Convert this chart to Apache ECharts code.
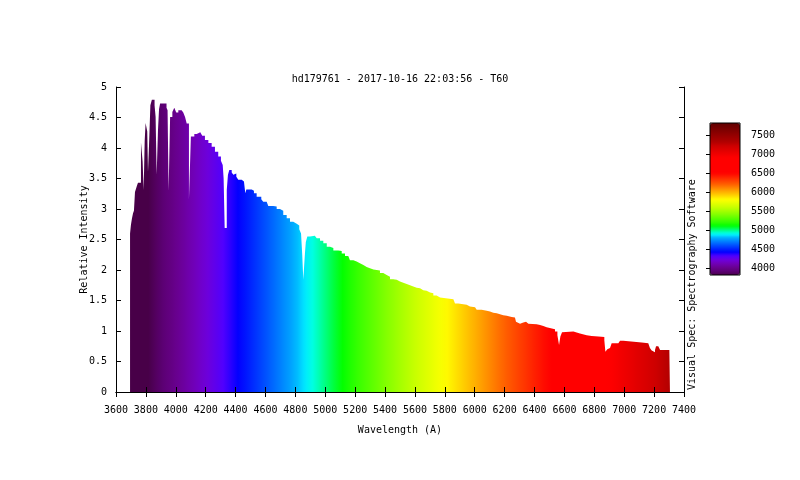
<!DOCTYPE html>
<html>
<head>
<meta charset="utf-8">
<script src="https://cdn.jsdelivr.net/npm/echarts@6/dist/echarts.min.js"></script>
<style>
html,body{margin:0;padding:0;background:#fff;}
#chart{width:800px;height:480px;}
</style>
</head>
<body>
<div id="chart"></div>
<script>
// ---- data ----
const wavelength = [
3694,3700,3707,3714,3720,3727,3740,3747,3767,3778,3785,3792,3798,3809,3814,3821,3830,3840,3858,3865,
3872,3881,3888,3895,3938,3945,3952,3962,3977,3990,4003,4017,4039,4050,4062,4073,4088,4101,4124,4140,
4164,4177,4195,4218,4240,4262,4284,4302,4314,4320,4327,4341,4349,4358,4374,4385,4396,4405,4418,4441,
4456,4465,4472,4508,4523,4541,4572,4585,4608,4619,4652,4675,4697,4719,4742,4764,4786,4809,4826,4838,
4846,4853,4864,4870,4880,4898,4930,4943,4965,4987,5010,5032,5054,5087,5110,5132,5154,5165,5188,5210,
5232,5255,5277,5299,5322,5366,5388,5411,5433,5455,5478,5500,5522,5545,5567,5589,5612,5634,5656,5678,
5701,5723,5745,5768,5779,5857,5868,5890,5946,5968,6002,6013,6046,6080,6102,6124,6147,6191,6214,6247,
6269,6276,6285,6303,6325,6343,6359,6414,6437,6459,6481,6537,6553,6564,6573,6584,6597,6660,6704,6715,
6749,6782,6827,6867,6874,6887,6894,6905,6916,6961,6972,6994,7117,7161,7172,7184,7195,7206,7213,7228,
7240,7302,7306
];
const intensity = [
2.60,2.74,2.85,2.93,2.97,3.28,3.38,3.43,4.09,3.78,3.31,4.12,4.41,4.27,3.61,4.05,4.70,4.79,4.70,4.51,
3.56,4.30,4.64,4.73,4.66,4.62,3.30,4.51,4.59,4.66,4.58,4.62,4.60,4.58,4.51,4.40,3.15,4.19,4.23,4.26,
4.24,4.20,4.13,4.08,4.02,3.94,3.86,3.79,3.72,3.50,2.69,3.31,3.56,3.64,3.60,3.56,3.58,3.53,3.48,3.45,
3.42,3.26,3.32,3.30,3.26,3.20,3.16,3.12,3.09,3.05,3.04,3.00,2.97,2.90,2.85,2.79,2.76,2.73,2.67,2.60,
2.25,1.84,2.27,2.46,2.55,2.56,2.55,2.52,2.48,2.44,2.38,2.36,2.32,2.31,2.27,2.23,2.20,2.16,2.14,2.11,
2.08,2.05,2.03,2.01,1.99,1.95,1.92,1.89,1.85,1.84,1.81,1.79,1.77,1.75,1.73,1.71,1.70,1.67,1.66,1.63,
1.62,1.58,1.55,1.53,1.52,1.49,1.45,1.43,1.40,1.39,1.37,1.35,1.33,1.32,1.30,1.29,1.26,1.25,1.23,1.22,
1.21,1.15,1.12,1.14,1.15,1.12,1.11,1.10,1.08,1.06,1.03,0.99,0.93,0.77,0.91,0.98,0.99,0.96,0.95,0.93,
0.92,0.91,0.90,0.85,0.66,0.70,0.72,0.75,0.80,0.82,0.84,0.81,0.80,0.77,0.72,0.68,0.65,0.69,0.75,0.73,
0.69,0.70,0.70
];
const xTicks = [3600, 7400, 200];
const yTicks = [0, 5, 0.5];
const cbRange = [3816, 7816];
const cbTickValues = [4000, 4500, 5000, 5500, 6000, 6500, 7000, 7500];
// colour stops of the wavelength palette: [wavelength, colour]
const paletteStops = [
  [3816,'#480048'],[3900,'#5a0070'],[4000,'#68008c'],[4100,'#7000b0'],[4200,'#7000d8'],
  [4320,'#5000ff'],[4420,'#0000ff'],[4600,'#0050ff'],[4800,'#00b0ff'],[4890,'#00ffff'],
  [5000,'#00ff80'],[5110,'#00ff00'],[5200,'#30ff00'],[5400,'#80ff00'],[5600,'#c8ff00'],
  [5800,'#ffff00'],[6000,'#ffb000'],[6200,'#ff6000'],[6400,'#ff2000'],[6500,'#ff0000'],
  [6900,'#ff0000'],[7000,'#f00000'],[7200,'#d00000'],[7300,'#b40000'],[7816,'#600000']
];
const titleText = 'hd179761 - 2017-10-16 22:03:56 - T60';
const sideText = 'Visual Spec: Spectrography Software';

// evenly spaced colour list for the visualMap built from the palette stops
function paletteColors(n) {
  const hex = c => [1, 3, 5].map(i => parseInt(c.substr(i, 2), 16));
  const out = [];
  for (let k = 0; k < n; k++) {
    const w = cbRange[0] + (cbRange[1] - cbRange[0]) * k / (n - 1);
    let j = 0;
    while (j < paletteStops.length - 2 && paletteStops[j + 1][0] < w) j++;
    const a = paletteStops[j], b = paletteStops[j + 1];
    const t = Math.max(0, Math.min(1, (w - a[0]) / (b[0] - a[0])));
    const ca = hex(a[1]), cb = hex(b[1]);
    const c = ca.map((v, i) => Math.round(v + (cb[i] - v) * t));
    out.push('rgb(' + c.join(',') + ')');
  }
  return out;
}

// ---- chart ----
const FONT = 'DejaVu Sans Mono';
const txt = {fontFamily: FONT, fontSize: 10, color: '#000'};
const chart = echarts.init(document.getElementById('chart'), null, {renderer: 'canvas'});
const blackLine = {show: true, lineStyle: {color: '#000', width: 1}};
const inTick = {show: true, inside: true, length: 5, lineStyle: {color: '#000'}};

chart.setOption({
  backgroundColor: '#fff',
  animation: false,
  title: {text: titleText, left: 'center', top: 69, textStyle: Object.assign({fontWeight: 'normal'}, txt)},
  grid: [
    {left: 116, top: 87, width: 568, height: 305},
    {left: 710, top: 123, width: 30, height: 152, show: true, z: 10,
     backgroundColor: 'transparent', borderColor: '#000', borderWidth: 1}
  ],
  xAxis: [
    {type: 'value', gridIndex: 0, position: 'bottom', min: xTicks[0], max: xTicks[1], interval: xTicks[2], z: 5,
     axisLine: blackLine, axisTick: inTick, splitLine: {show: false},
     axisLabel: Object.assign({margin: 13, formatter: v => String(v)}, txt),
     name: 'Wavelength (A)', nameLocation: 'middle', nameGap: 33, nameMoveOverlap: false, nameTextStyle: txt},
    {type: 'value', gridIndex: 0, position: 'top', min: xTicks[0], max: xTicks[1], interval: xTicks[2], z: 5,
     axisLine: blackLine, axisTick: inTick, splitLine: {show: false}, axisLabel: {show: false}},
    {type: 'value', gridIndex: 1, show: false, min: 0, max: 1}
  ],
  yAxis: [
    {type: 'value', gridIndex: 0, position: 'left', min: yTicks[0], max: yTicks[1], interval: yTicks[2], z: 5,
     axisLine: blackLine, axisTick: inTick, splitLine: {show: false},
     axisLabel: Object.assign({margin: 9}, txt),
     name: 'Relative Intensity', nameLocation: 'middle', nameGap: 27, nameMoveOverlap: false, nameTextStyle: txt},
    {type: 'value', gridIndex: 0, position: 'right', min: yTicks[0], max: yTicks[1], interval: yTicks[2], z: 5,
     axisLine: blackLine, axisTick: inTick, splitLine: {show: false}, axisLabel: {show: false}},
    {type: 'value', gridIndex: 1, position: 'right', min: cbRange[0], max: cbRange[1], z: 11,
     axisLine: {show: false}, splitLine: {show: false},
     axisTick: {show: true, inside: true, length: 4, lineStyle: {color: '#000'}, customValues: cbTickValues},
     axisLabel: Object.assign({margin: 11, customValues: cbTickValues, formatter: v => String(v)}, txt)}
  ],
  visualMap: {
    type: 'continuous', seriesIndex: 0, dimension: 0,
    min: cbRange[0], max: cbRange[1], calculable: false, hoverLink: false,
    orient: 'vertical', left: 710, top: 123, itemWidth: 30, itemHeight: 152, padding: 0,
    text: null, showLabel: false,
    inRange: {color: paletteColors(81)}
  },
  graphic: [{
    type: 'text', x: 692, y: 390, rotation: Math.PI / 2,
    style: {text: sideText, font: '10px "DejaVu Sans Mono"', fill: '#000', align: 'left', verticalAlign: 'middle'}
  }],
  series: [{
    type: 'line', xAxisIndex: 0, yAxisIndex: 0, step: 'end', symbol: 'none',
    lineStyle: {width: 0}, areaStyle: {opacity: 1},
    data: wavelength.map((w, i) => [w, intensity[i]])
  }]
});
</script>
</body>
</html>
